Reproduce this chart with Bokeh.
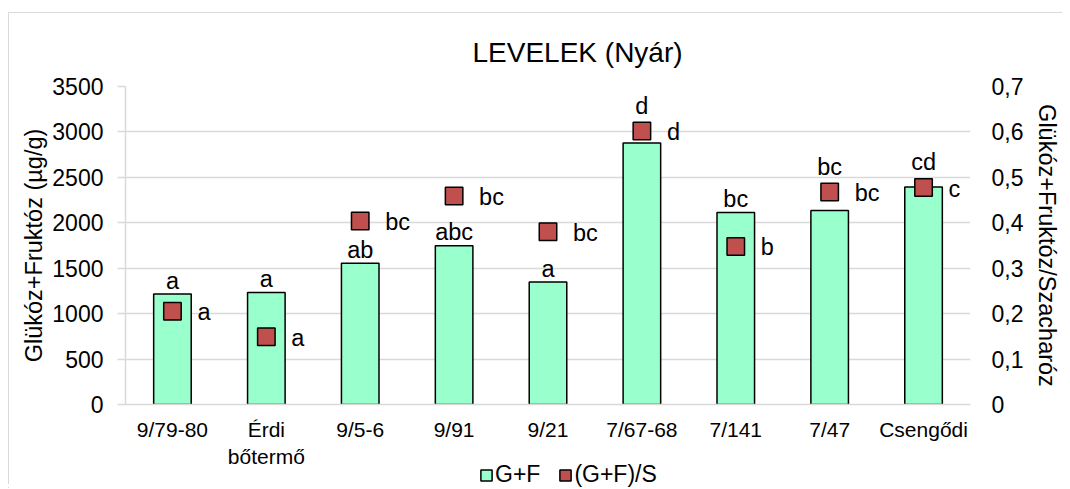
from bokeh.plotting import figure
from bokeh.models import (Range1d, LinearAxis, FactorRange, ColumnDataSource, Legend,
                          LegendItem, FixedTicker)
from bokeh.core.properties import value
from bokeh.embed import file_html
from bokeh.resources import INLINE

# ---------------- data ----------------
categories = ["9/79-80", "Érdi\nbőtermő", "9/5-6", "9/91", "9/21",
              "7/67-68", "7/141", "7/47", "Csengődi"]
gf_values = [1215, 1234, 1556, 1747, 1347, 2878, 2112, 2134, 2395]
ratio_values = [0.205, 0.149, 0.404, 0.459, 0.38, 0.602, 0.348, 0.468, 0.4775]
gf_letters = ["a", "a", "ab", "abc", "a", "d", "bc", "bc", "cd"]
ratio_letters = ["a", "a", "bc", "bc", "bc", "d", "b", "bc", "c"]
left_ticks = [0, 500, 1000, 1500, 2000, 2500, 3000, 3500]
right_ticks = [0, 0.1, 0.2, 0.3, 0.4, 0.5, 0.6, 0.7]
right_tick_labels = ["0", "0,1", "0,2", "0,3", "0,4", "0,5", "0,6", "0,7"]

title_text = "LEVELEK (Nyár)"
left_title = "Glükóz+Fruktóz (µg/g)"
right_title = "Glükóz+Fruktóz/Szacharóz"
legend_labels = ["G+F", "(G+F)/S"]

# ---------------- styles ----------------
FONT = "Liberation Sans"
BAR_FILL = "#99FFCC"
SQ_FILL = "#C0504D"
GRID = "#d9d9d9"
LEFT_MAX = 3500
RIGHT_MAX = 0.7
FRAME_H = 318
SQ_SIZE = 17.5
BASE_FIX = -7  # compensate for the alphabetic baseline placement

W, H = 1054, 472
p = figure(x_range=FactorRange(*categories), y_range=Range1d(0, LEFT_MAX),
           width=W, height=H, output_backend="svg", toolbar_location=None,
           min_border_left=116, min_border_right=91, min_border_top=73,
           min_border_bottom=81)
p.styles = {"margin-top": "12px", "margin-left": "8px",
            "border-top": "1px solid #d9d9d9",
            "border-left": "1px solid #d9d9d9"}
p.outline_line_color = None
p.background_fill_color = "white"
p.border_fill_color = "white"

p.extra_y_ranges = {"right": Range1d(0, RIGHT_MAX)}

# grid
p.xgrid.grid_line_color = None
p.ygrid.ticker = FixedTicker(ticks=left_ticks)
p.ygrid.grid_line_color = GRID
p.ygrid.grid_line_width = 1.5

# left axis
ya = p.yaxis[0]
ya.ticker = FixedTicker(ticks=left_ticks)
ya.axis_line_color = GRID
ya.axis_line_width = 1.5
ya.major_tick_line_color = GRID
ya.major_tick_line_width = 1.5
ya.major_tick_out = 8
ya.major_tick_in = 0
ya.minor_tick_line_color = None
ya.major_label_standoff = 14
ya.major_label_text_font = FONT
ya.major_label_text_font_size = "23px"
ya.major_label_text_color = "black"
ya.axis_label = left_title
ya.axis_label_text_font = FONT
ya.axis_label_text_font_size = "23.5px"
ya.axis_label_text_font_style = "normal"
ya.axis_label_text_color = "black"
ya.axis_label_standoff = 2

# x axis
xa = p.xaxis[0]
xa.axis_line_color = GRID
xa.axis_line_width = 1.5
xa.major_tick_line_color = None
xa.major_tick_out = 0
xa.major_tick_in = 0
xa.minor_tick_line_color = None
xa.major_label_standoff = 13
xa.major_label_text_font = FONT
xa.major_label_text_font_size = "21px"
xa.major_label_text_color = "black"

# right axis
ra = LinearAxis(y_range_name="right", ticker=FixedTicker(ticks=right_ticks),
                major_label_overrides=dict(zip(right_ticks, right_tick_labels)))
ra.axis_line_color = None
ra.major_tick_line_color = None
ra.major_tick_out = 0
ra.major_tick_in = 0
ra.minor_tick_line_color = None
ra.major_label_standoff = 21
ra.major_label_text_font = FONT
ra.major_label_text_font_size = "23px"
ra.major_label_text_color = "black"
ra.axis_label = right_title
ra.axis_label_text_font = FONT
ra.axis_label_text_font_size = "23.5px"
ra.axis_label_text_font_style = "normal"
ra.axis_label_text_color = "black"
ra.axis_label_standoff = 8
p.add_layout(ra, "right")

# title
p.title.text = title_text
p.title.text_font = FONT
p.title.text_font_size = "28px"
p.title.text_font_style = "normal"
p.title.text_color = "black"
p.title.align = "left"
p.title.offset = 347
p.title.standoff = 37

# bars
src = ColumnDataSource(dict(cat=categories, gf=gf_values, ratio=ratio_values))
p.vbar(x="cat", top="gf", width=0.4, source=src, fill_color=BAR_FILL,
       line_color="black", line_width=1.5)

# squares
p.scatter(x="cat", y="ratio", source=src, marker="square", size=SQ_SIZE,
          fill_color=SQ_FILL, line_color="black", line_width=1.5,
          y_range_name="right")

# bar letters: above the bar, or above the square when the square is in the way
px_per_unit = FRAME_H / LEFT_MAX
scale = LEFT_MAX / RIGHT_MAX
half = SQ_SIZE / 2 + 1
lab_y, lab_off = [], []
for g, r in zip(gf_values, ratio_values):
    d = (r * scale - g) * px_per_unit  # square centre above bar top, in px
    if d - half < 24 and d + half > 6.5:
        lab_y.append(r * scale)
        lab_off.append(-(half + 8.5) + BASE_FIX)
    else:
        lab_y.append(g)
        lab_off.append(-6.5 + BASE_FIX)
lab_src = ColumnDataSource(dict(cat=categories, y=lab_y, off=lab_off, t=gf_letters))
p.text(x="cat", y="y", text="t", y_offset="off", source=lab_src,
       text_align="center", text_baseline="alphabetic",
       text_font=value(FONT), text_font_size="23.5px", text_color="black")

# square letters
sq_src = ColumnDataSource(dict(cat=categories, y=ratio_values, t=ratio_letters))
p.text(x="cat", y="y", text="t", source=sq_src, x_offset=25, y_offset=8 + BASE_FIX,
       text_align="left", text_baseline="alphabetic", y_range_name="right",
       text_font=value(FONT), text_font_size="23.5px", text_color="black")

# ---------------- legend: a small transparent figure laid over the bottom ----------------
LEG_TOP, LEG_H = 461, 27
p2 = figure(width=W, height=LEG_H, x_range=Range1d(0, 1), y_range=Range1d(0, 1),
            x_axis_location=None, y_axis_location=None, toolbar_location=None,
            output_backend="svg", min_border=0)
p2.styles = {"position": "absolute", "top": f"{LEG_TOP}px", "left": "8px"}
p2.grid.visible = False
p2.outline_line_color = None
p2.background_fill_color = None
p2.border_fill_color = None
# legend swatches (kept outside the visible range, only the legend shows them)
sw_gf = p2.vbar(x=[-10], top=[-10], bottom=[-11], width=0.5, fill_color=BAR_FILL,
                line_color="black", line_width=1.5)
sw_ratio = p2.vbar(x=[-10], top=[-10], bottom=[-11], width=0.5, fill_color=SQ_FILL,
                   line_color="black", line_width=1.5)

legend = Legend(items=[LegendItem(label=legend_labels[0], renderers=[sw_gf]),
                       LegendItem(label=legend_labels[1], renderers=[sw_ratio])],
                orientation="horizontal", location=(471, 0))
legend.glyph_width = 14
legend.glyph_height = 14
legend.label_standoff = 2
legend.spacing = 18
legend.padding = 0
legend.margin = 0
legend.border_line_color = None
legend.background_fill_alpha = 0
legend.label_text_font = FONT
legend.label_text_font_size = "23px"
legend.label_text_color = "black"
legend.label_height = 22
p2.add_layout(legend, "center")

open("out.html", "w").write(file_html([p, p2], INLINE))
